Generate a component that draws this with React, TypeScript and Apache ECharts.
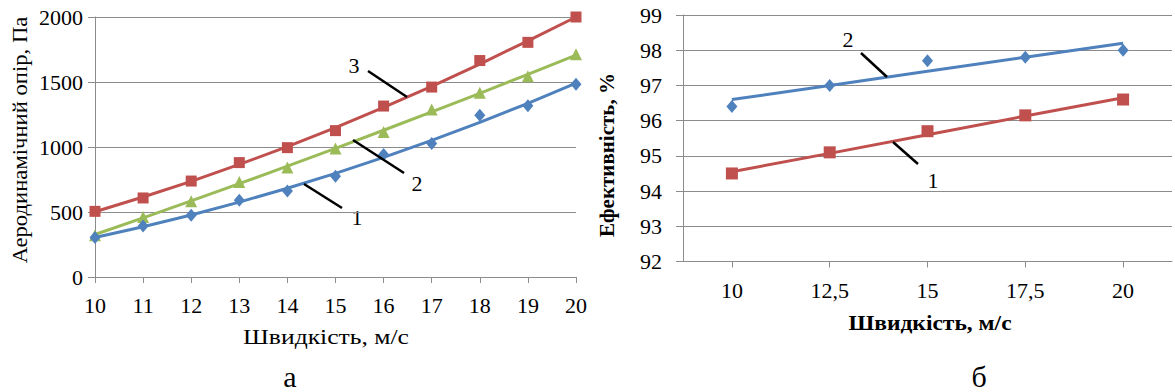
import React, { useEffect, useRef } from "react";
import * as echarts from "echarts";

// ---- Chart а: aerodynamic resistance vs speed ----
const speeds = [10, 11, 12, 13, 14, 15, 16, 17, 18, 19, 20];
const res1Points = [303, 392, 475, 590, 662, 775, 942, 1026, 1244, 1318, 1482];
const res2Points = [321, 462, 582, 731, 842, 988, 1115, 1288, 1418, 1544, 1713];
const res3Points = [505, 608, 738, 880, 995, 1126, 1315, 1461, 1665, 1805, 2000];
const res1Trend = [304, 386, 477, 576, 683, 797, 920, 1051, 1189, 1336, 1491];
const res2Trend = [327, 455, 585, 718, 853, 990, 1129, 1270, 1413, 1559, 1707];
const res3Trend = [502, 615, 736, 866, 1003, 1149, 1304, 1466, 1638, 1817, 2000];
const resTicks = { min: 0, max: 2000, interval: 500 };

// ---- Chart б: efficiency vs speed ----
const effCategories = ["10", "12,5", "15", "17,5", "20"];
const eff1Points = [94.5, 95.1, 95.7, 96.15, 96.6];
const eff2Points = [96.4, 97.0, 97.7, 97.8, 98.0];
const eff1Trend = [94.55, 95.07, 95.6, 96.13, 96.65];
const eff2Trend = [96.6, 97.0, 97.4, 97.8, 98.2];
const effTicks = { min: 92, max: 99, interval: 1 };

const RED = "#C0504D";
const GREEN = "#9BBB59";
const BLUE = "#4F81BD";
const GRAY = "#8c8c8c";
const FONT = "Liberation Serif";

const pairs = (xs: number[], ys: number[]) => xs.map((x, i) => [x, ys[i]]);

export default function App() {
  const ref = useRef<HTMLDivElement>(null);

  useEffect(() => {
    document.body.style.margin = "0";
    if (!ref.current) return;
    const chart = echarts.init(ref.current, null, { renderer: "svg" });

    const axisLabel = (margin: number) => ({
      margin,
      fontFamily: FONT,
      fontSize: 22,
      color: "#000",
      formatter: (v: any) => String(v),
    });
    const lineAxis = { show: true, lineStyle: { color: GRAY, width: 1 } };

    const trend = (name: string, data: any[], color: string, xi: number) => ({
      name,
      type: "line",
      xAxisIndex: xi,
      yAxisIndex: xi,
      data,
      showSymbol: false,
      symbol: "none",
      lineStyle: { color, width: 3 },
      itemStyle: { color },
      z: 3,
    });
    const marks = (name: string, data: any[], color: string, symbol: string, size: any, xi: number) => ({
      name,
      type: "scatter",
      xAxisIndex: xi,
      yAxisIndex: xi,
      data,
      symbol,
      symbolSize: size,
      itemStyle: { color, opacity: 1 },
      z: 4,
    });

    const text = (t: string, x: number, y: number, size: number, extra: any = {}) => {
      const { font, ...rest } = extra;
      return {
        type: "text",
        x,
        y,
        ...rest,
        style: {
          text: t,
          fontFamily: FONT,
          fontSize: size,
          fill: "#000",
          align: "center",
          verticalAlign: "middle",
          ...(font || {}),
        },
      };
    };
    const leader = (x1: number, y1: number, x2: number, y2: number) => ({
      type: "line",
      shape: { x1, y1, x2, y2 },
      style: { stroke: "#000", lineWidth: 2.5 },
      z: 10,
    });

    chart.setOption({
      animation: false,
      textStyle: { fontFamily: FONT },
      grid: [
        { left: 95, top: 17, width: 481, height: 260 },
        { left: 683, top: 15, width: 489, height: 246.5 },
      ],
      xAxis: [
        {
          type: "value",
          gridIndex: 0,
          min: 10,
          max: 20,
          interval: 1,
          axisLine: lineAxis,
          axisTick: { show: true, length: 6, lineStyle: { color: GRAY } },
          axisLabel: { ...axisLabel(17), showMinLabel: true, showMaxLabel: true },
          splitLine: { show: false },
        },
        {
          type: "category",
          gridIndex: 1,
          data: effCategories,
          boundaryGap: true,
          axisLine: lineAxis,
          axisTick: { show: true, alignWithLabel: true, length: 6, lineStyle: { color: GRAY } },
          axisLabel: axisLabel(18),
          splitLine: { show: false },
        },
      ],
      yAxis: [
        {
          type: "value",
          gridIndex: 0,
          ...resTicks,
          axisLine: lineAxis,
          axisTick: { show: true, length: 7, lineStyle: { color: GRAY } },
          axisLabel: axisLabel(12),
          splitLine: { show: true, lineStyle: { color: GRAY, width: 1 } },
        },
        {
          type: "value",
          gridIndex: 1,
          ...effTicks,
          axisLine: lineAxis,
          axisTick: { show: true, length: 7, lineStyle: { color: GRAY } },
          axisLabel: axisLabel(21),
          splitLine: { show: true, lineStyle: { color: GRAY, width: 1 } },
        },
      ],
      series: [
        trend("t3", pairs(speeds, res3Trend), RED, 0),
        trend("t2", pairs(speeds, res2Trend), GREEN, 0),
        trend("t1", pairs(speeds, res1Trend), BLUE, 0),
        marks("3", pairs(speeds, res3Points), RED, "rect", 11, 0),
        marks("2", pairs(speeds, res2Points), GREEN, "triangle", 12, 0),
        marks("1", pairs(speeds, res1Points), BLUE, "diamond", [11, 13], 0),
        trend("e2t", eff2Trend, BLUE, 1),
        trend("e1t", eff1Trend, RED, 1),
        marks("e2", eff2Points, BLUE, "diamond", [11, 13], 1),
        marks("e1", eff1Points, RED, "rect", 12, 1),
      ],
      graphic: [
        text("Аеродинамічний опір, Па", 20, 140, 21, { rotation: Math.PI / 2, scaleX: 1.08 }),
        text("Швидкість, м/с", 326, 337, 21, { scaleX: 1.22 }),
        text("а", 290, 376, 30),
        text("Ефективність, %", 607, 155, 21, { rotation: Math.PI / 2, font: { fontWeight: "bold" } }),
        text("Швидкість, м/с", 930, 323, 21, { scaleX: 1.12, font: { fontWeight: "bold" } }),
        text("б", 979, 376, 30),
        text("3", 354, 65, 22),
        leader(368, 71, 407, 97),
        text("2", 417, 183, 22),
        leader(353, 140, 404, 173),
        text("1", 357, 217, 22),
        leader(304, 184, 342, 208),
        text("2", 848, 39, 22),
        leader(861, 53, 887, 77),
        text("1", 933, 180, 22),
        leader(893, 142, 918, 164),
      ],
    });

    return () => chart.dispose();
  }, []);

  return <div ref={ref} style={{ width: 1175, height: 392 }} />;
}
